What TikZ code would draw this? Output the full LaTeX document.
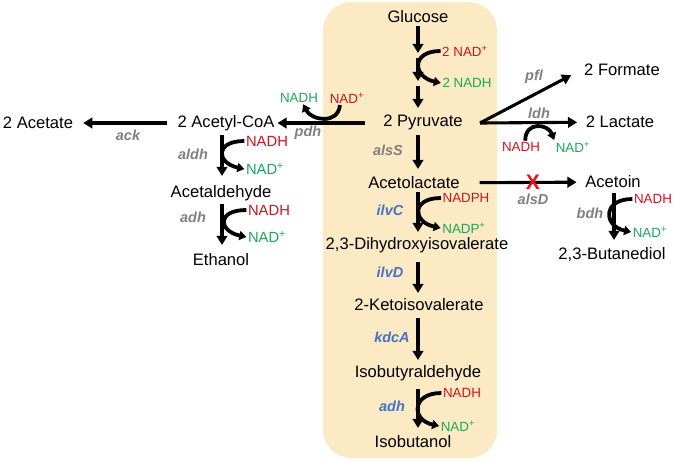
\documentclass[tikz,border=0pt]{standalone}
\usepackage{fontspec}
\setmainfont{Liberation Sans}
\usetikzlibrary{arrows.meta}
\definecolor{nadred}{HTML}{C8161E}
\definecolor{nadgreen}{HTML}{1EA55A}
\definecolor{enzgrey}{HTML}{808080}
\definecolor{enzblue}{HTML}{4472C4}
\definecolor{boxpeach}{HTML}{FBEAC4}
\definecolor{xred}{HTML}{E8141B}

\begin{document}
\begin{tikzpicture}[x=0.025cm, y=-0.025cm,
            every node/.style={
            inner sep=2pt, font=\fontsize{11.8}{14}\selectfont}
        ]
        \tikzstyle {red_cof} = [text=nadred, inner sep=1pt, font=\fontsize{9.5}{11}\selectfont]
        \tikzstyle {green_cof} = [text=nadgreen, inner sep=1pt, font=\fontsize{9.5}{11}\selectfont]
        \tikzstyle {big_cof} = [font=\fontsize{10.5}{12}\selectfont]
        \tikzstyle {grey_enz} = [text=enzgrey, font=\fontsize{10.3}{12}\selectfont\bfseries\itshape]
        \tikzstyle {blue_enz} = [text=enzblue, font=\fontsize{10.3}{12}\selectfont\bfseries\itshape]
        \tikzstyle {rxn} = [line width=2.2pt, -{Triangle[length=6.5pt,width=7.5pt]}]
        \tikzstyle {cof_arc} = [line width=2.7pt, -{Triangle[length=5pt,width=6.5pt]}]

        \useasboundingbox (0,0) rectangle (680,462);
        % isobutanol pathway box
        \fill[boxpeach, rounded corners=20pt] (323,2) rectangle (497,458);

        % metabolites
        \node (glc) at (418,17) {Glucose};
        \node (pyr) at (423,122) {2 Pyruvate};
        \node (accoa) at (226,123) {2 Acetyl-CoA};
        \node (acet) at (38,123) {2 Acetate};
        \node (acald) at (221,193) {Acetaldehyde};
        \node (etoh) at (221,260) {Ethanol};
        \node (form) at (622,70) {2 Formate};
        \node (lact) at (620,122) {2 Lactate};
        \node (acl) at (414,183) {Acetolactate};
        \node (acn) at (613,182) {Acetoin};
        \node (btd) at (612,255) {2,3-Butanediol};
        \node (dhiv) at (417,245) {2,3-Dihydroxyisovalerate};
        \node (kiv) at (419,305) {2-Ketoisovalerate};
        \node (ibal) at (418,373) {Isobutyraldehyde};
        \node (ibol) at (413,442) {Isobutanol};

        % cofactors
        \node [red_cof] (glc_r) at (465,51) {2 NAD\textsuperscript{+}};
        \node [green_cof] (glc_g) at (467,83) {2 NADH};
        \node [red_cof] (pdh_r) at (347,98) {NAD\textsuperscript{+}};
        \node [green_cof] (pdh_g) at (299,98) {NADH};
        \node [red_cof, big_cof] (aldh_r) at (267,141) {NADH};
        \node [green_cof, big_cof] (aldh_g) at (265,169) {NAD\textsuperscript{+}};
        \node [red_cof, big_cof] (eadh_r) at (269,210) {NADH};
        \node [green_cof, big_cof] (eadh_g) at (267,237) {NAD\textsuperscript{+}};
        \node [red_cof] (ldh_r) at (521,147) {NADH};
        \node [green_cof] (ldh_g) at (573,147) {NAD\textsuperscript{+}};
        \node [red_cof] (bdh_r) at (653,199) {NADH};
        \node [green_cof] (bdh_g) at (650,232) {NAD\textsuperscript{+}};
        \node [red_cof] (ilvc_r) at (466,198) {NADPH};
        \node [green_cof] (ilvc_g) at (464,228) {NADP\textsuperscript{+}};
        \node [red_cof] (iadh_r) at (462,393) {NADH};
        \node [green_cof] (iadh_g) at (458,426) {NAD\textsuperscript{+}};

        % enzymes
        \node [grey_enz] (ack) at (128,135) {ack};
        \node [grey_enz] (pdh) at (308,133) {pdh};
        \node [grey_enz] (aldh) at (193,154) {aldh};
        \node [grey_enz] (eadh) at (193,217) {adh};
        \node [grey_enz] (pfl) at (534,77) {pfl};
        \node [grey_enz] (ldh) at (539,113) {ldh};
        \node [grey_enz] (alss) at (388,150) {alsS};
        \node [grey_enz] (alsd) at (533,199) {alsD};
        \node [grey_enz] (bdh) at (590,213) {bdh};
        \node [blue_enz] (ilvc) at (390,210) {ilvC};
        \node [blue_enz] (ilvd) at (390,272) {ilvD};
        \node [blue_enz] (kdca) at (392,337) {kdcA};
        \node [blue_enz] (iadh) at (392,406) {adh};

        \coordinate (g1) at (418,53);
        \coordinate (g2) at (418,58);
        \coordinate (g3) at (418,81);
        \coordinate (g4) at (418,86);
        \coordinate (pdh_in) at (365,123);
        \coordinate (br) at (480,123);

        % main arrows
        \draw [rxn] (glc) -- (g1);
        \draw [rxn] (g2) -- (g3);
        \draw [rxn] (g4) -- (418,108);
        \draw [rxn] (pdh_in) -- (accoa);
        \draw [rxn, shorten <=5pt, shorten >=5pt] (accoa) -- (acet);
        \draw [rxn] (222,135) -- (222,176);
        \draw [rxn] (222,204) -- (222,245);
        \draw [rxn, shorten >=8pt] (br) -- (form.west);
        \draw [rxn, shorten >=4pt] (br) -- (lact);
        \draw [rxn] (418,135) -- (418,169);
        \draw [rxn, shorten <=12pt, shorten >=4pt] (acl) -- (acn);
        \draw [rxn] (614,193) -- (614,240);
        \draw [rxn] (418,192) -- (418,232);
        \draw [rxn] (418,262) -- (418,293);
        \draw [rxn] (418,318) -- (418,360);
        \draw [rxn] (418,389) -- (418,428);
        \node [text=xred, font=\fontsize{15}{15}\selectfont\bfseries] (block) at (533,182) {X};

        % cofactor arcs
        \draw [cof_arc] (glc_r.west) .. controls +(-30,0) and +(-28,-6) .. (glc_g.west);
        \draw [cof_arc] ([xshift=-5pt]pdh_r.south) .. controls +(-2,20) and +(8,16) .. ([xshift=3pt]pdh_g.south);
        \draw [cof_arc] (aldh_r.west) .. controls +(-30,0) and +(-28,-6) .. (aldh_g.west);
        \draw [cof_arc] (eadh_r.west) .. controls +(-30,0) and +(-28,-6) .. (eadh_g.west);
        \draw [cof_arc] ([xshift=3pt]ldh_r.north) .. controls +(0,-20) and +(-6,-16) .. (ldh_g.north west);
        \draw [cof_arc] (bdh_r.west) .. controls +(-30,0) and +(-28,-6) .. (bdh_g.west);
        \draw [cof_arc] (ilvc_r.west) .. controls +(-30,0) and +(-28,-6) .. (ilvc_g.west);
        \draw [cof_arc] (iadh_r.west) .. controls +(-30,0) and +(-28,-6) .. (iadh_g.west);
\end{tikzpicture}
\end{document}
